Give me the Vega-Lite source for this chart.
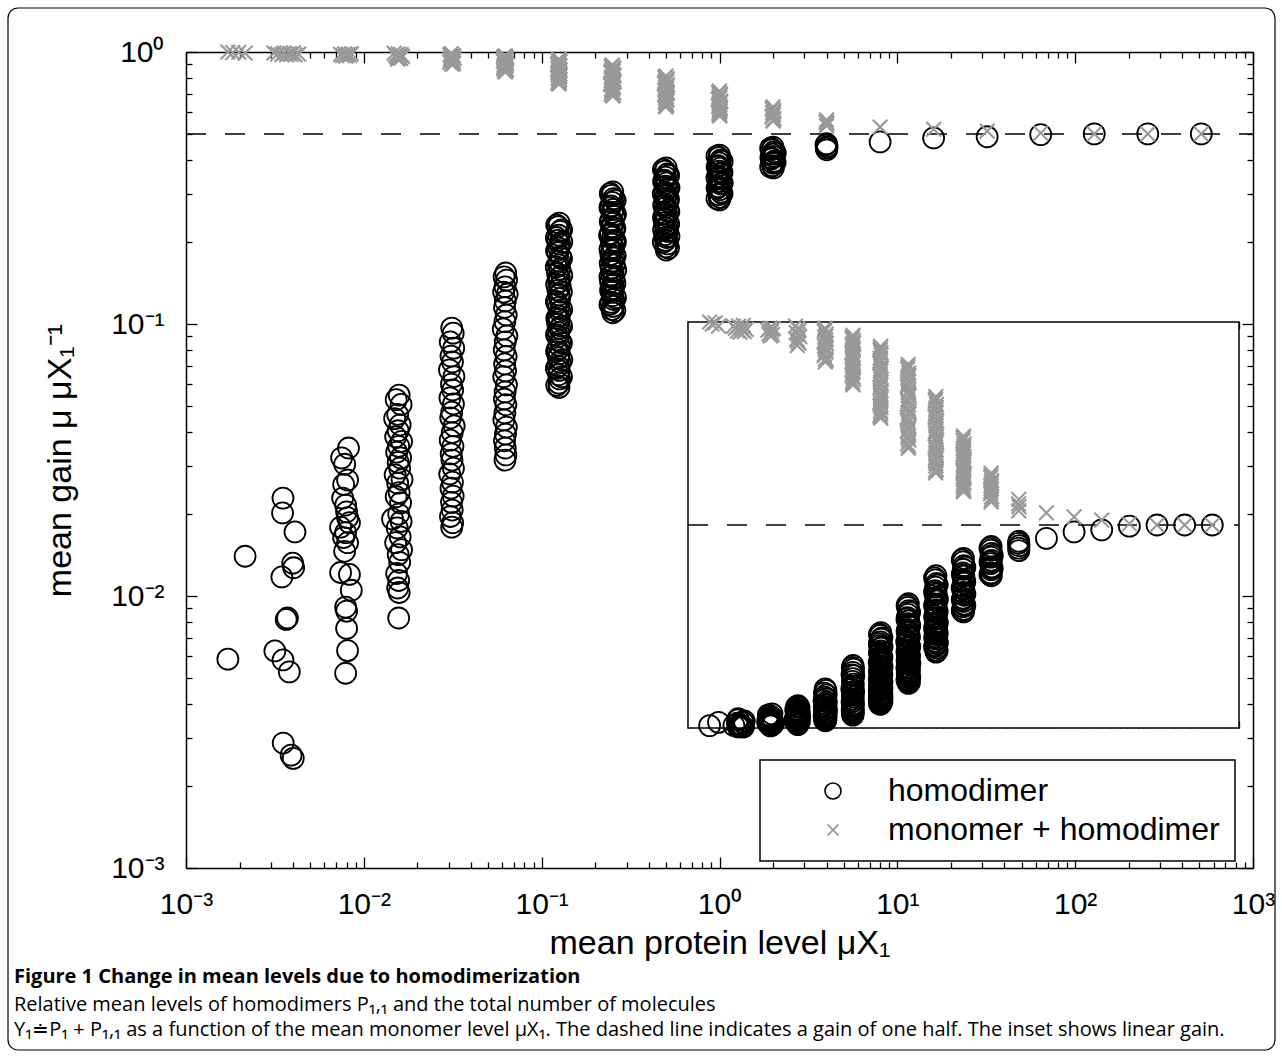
{
  "$schema": "https://vega.github.io/schema/vega-lite/v6.json",
  "autosize": {"type": "none"},
  "padding": {"left": 186, "top": 52, "right": 29, "bottom": 188},
  "width": 1067,
  "height": 816,
  "background": "white",
  "datasets": {
    "pts": [
      {"x":0.00172,"y":0.00586,"s":"h"},{"x":0.00215,"y":0.014,"s":"h"},{"x":0.00351,"y":0.0229,"s":"h"},{"x":0.00349,"y":0.0202,"s":"h"},
      {"x":0.0041,"y":0.0172,"s":"h"},{"x":0.00398,"y":0.0132,"s":"h"},{"x":0.00403,"y":0.0127,"s":"h"},{"x":0.00346,"y":0.01175,"s":"h"},
      {"x":0.00372,"y":0.0083,"s":"h"},{"x":0.00366,"y":0.0082,"s":"h"},{"x":0.00316,"y":0.00628,"s":"h"},{"x":0.00351,"y":0.00582,"s":"h"},
      {"x":0.00381,"y":0.00526,"s":"h"},{"x":0.00352,"y":0.00288,"s":"h"},{"x":0.0039,"y":0.0026,"s":"h"},{"x":0.00401,"y":0.00253,"s":"h"},
      {"x":0.0082,"y":0.035,"s":"h"},{"x":0.0075,"y":0.0322,"s":"h"},{"x":0.0078,"y":0.0305,"s":"h"},{"x":0.0081,"y":0.0267,"s":"h"},
      {"x":0.0077,"y":0.0257,"s":"h"},{"x":0.0076,"y":0.0229,"s":"h"},{"x":0.0079,"y":0.0216,"s":"h"},{"x":0.008,"y":0.0204,"s":"h"},
      {"x":0.0081,"y":0.0194,"s":"h"},{"x":0.0083,"y":0.0186,"s":"h"},{"x":0.0074,"y":0.0179,"s":"h"},{"x":0.0079,"y":0.0171,"s":"h"},
      {"x":0.0077,"y":0.0164,"s":"h"},{"x":0.0081,"y":0.0157,"s":"h"},{"x":0.0078,"y":0.0146,"s":"h"},{"x":0.0074,"y":0.0122,"s":"h"},
      {"x":0.0083,"y":0.012,"s":"h"},{"x":0.0085,"y":0.0105,"s":"h"},{"x":0.0079,"y":0.0091,"s":"h"},{"x":0.008,"y":0.0088,"s":"h"},
      {"x":0.008,"y":0.0076,"s":"h"},{"x":0.0081,"y":0.0063,"s":"h"},{"x":0.0079,"y":0.0052,"s":"h"},
      {"x":0.0158,"y":0.0548,"s":"h"},{"x":0.0152,"y":0.0527,"s":"h"},{"x":0.0162,"y":0.0506,"s":"h"},{"x":0.0155,"y":0.0465,"s":"h"},
      {"x":0.0149,"y":0.0449,"s":"h"},{"x":0.016,"y":0.0426,"s":"h"},{"x":0.0156,"y":0.0405,"s":"h"},{"x":0.0151,"y":0.0385,"s":"h"},
      {"x":0.0163,"y":0.037,"s":"h"},{"x":0.0157,"y":0.0355,"s":"h"},{"x":0.0153,"y":0.0338,"s":"h"},{"x":0.0161,"y":0.0322,"s":"h"},
      {"x":0.0156,"y":0.031,"s":"h"},{"x":0.0159,"y":0.0295,"s":"h"},{"x":0.015,"y":0.0279,"s":"h"},{"x":0.0164,"y":0.0268,"s":"h"},
      {"x":0.0155,"y":0.026,"s":"h"},{"x":0.0158,"y":0.024,"s":"h"},{"x":0.0152,"y":0.0232,"s":"h"},{"x":0.0161,"y":0.022,"s":"h"},
      {"x":0.0157,"y":0.02,"s":"h"},{"x":0.0145,"y":0.0192,"s":"h"},{"x":0.0162,"y":0.0188,"s":"h"},{"x":0.0154,"y":0.0178,"s":"h"},
      {"x":0.016,"y":0.0165,"s":"h"},{"x":0.0151,"y":0.0157,"s":"h"},{"x":0.0163,"y":0.0148,"s":"h"},{"x":0.0156,"y":0.0142,"s":"h"},
      {"x":0.0159,"y":0.0133,"s":"h"},{"x":0.0153,"y":0.0121,"s":"h"},{"x":0.0157,"y":0.0114,"s":"h"},{"x":0.0155,"y":0.0107,"s":"h"},
      {"x":0.0158,"y":0.0103,"s":"h"},{"x":0.0157,"y":0.0083,"s":"h"},
      {"x":0.0312,"y":0.0966,"s":"h"},{"x":0.0318,"y":0.0925,"s":"h"},{"x":0.0306,"y":0.0859,"s":"h"},{"x":0.032,"y":0.0815,"s":"h"},
      {"x":0.0309,"y":0.0762,"s":"h"},{"x":0.0315,"y":0.0725,"s":"h"},{"x":0.0303,"y":0.0678,"s":"h"},{"x":0.0321,"y":0.0641,"s":"h"},
      {"x":0.0311,"y":0.0601,"s":"h"},{"x":0.0316,"y":0.0572,"s":"h"},{"x":0.0305,"y":0.0535,"s":"h"},{"x":0.0319,"y":0.0508,"s":"h"},
      {"x":0.0312,"y":0.0474,"s":"h"},{"x":0.0308,"y":0.0452,"s":"h"},{"x":0.0322,"y":0.0422,"s":"h"},{"x":0.0314,"y":0.0399,"s":"h"},
      {"x":0.0306,"y":0.0374,"s":"h"},{"x":0.0317,"y":0.0355,"s":"h"},{"x":0.031,"y":0.0333,"s":"h"},{"x":0.0313,"y":0.0316,"s":"h"},
      {"x":0.0319,"y":0.0295,"s":"h"},{"x":0.0304,"y":0.0281,"s":"h"},{"x":0.0315,"y":0.0262,"s":"h"},{"x":0.0309,"y":0.0249,"s":"h"},
      {"x":0.0318,"y":0.0233,"s":"h"},{"x":0.0311,"y":0.0221,"s":"h"},{"x":0.0314,"y":0.0207,"s":"h"},{"x":0.0307,"y":0.0196,"s":"h"},
      {"x":0.0316,"y":0.0186,"s":"h"},{"x":0.0312,"y":0.0179,"s":"h"},
      {"x":0.0628,"y":0.154,"s":"h"},{"x":0.0615,"y":0.149,"s":"h"},{"x":0.0635,"y":0.145,"s":"h"},{"x":0.0622,"y":0.137,"s":"h"},
      {"x":0.0611,"y":0.131,"s":"h"},{"x":0.064,"y":0.1289,"s":"h"},{"x":0.0625,"y":0.1215,"s":"h"},{"x":0.0618,"y":0.115,"s":"h"},
      {"x":0.0632,"y":0.1079,"s":"h"},{"x":0.0621,"y":0.102,"s":"h"},{"x":0.0608,"y":0.0959,"s":"h"},{"x":0.0637,"y":0.0904,"s":"h"},
      {"x":0.0624,"y":0.086,"s":"h"},{"x":0.0616,"y":0.0803,"s":"h"},{"x":0.0631,"y":0.076,"s":"h"},{"x":0.0619,"y":0.0713,"s":"h"},
      {"x":0.0627,"y":0.0672,"s":"h"},{"x":0.0612,"y":0.064,"s":"h"},{"x":0.0634,"y":0.0597,"s":"h"},{"x":0.0623,"y":0.0563,"s":"h"},
      {"x":0.0617,"y":0.053,"s":"h"},{"x":0.0629,"y":0.0505,"s":"h"},{"x":0.0621,"y":0.0471,"s":"h"},{"x":0.0613,"y":0.0444,"s":"h"},
      {"x":0.0633,"y":0.0418,"s":"h"},{"x":0.0626,"y":0.0394,"s":"h"},{"x":0.0618,"y":0.0372,"s":"h"},{"x":0.0624,"y":0.035,"s":"h"},
      {"x":0.0629,"y":0.033,"s":"h"},{"x":0.0622,"y":0.0316,"s":"h"},
      {"x":0.1255,"y":0.235,"s":"h"},{"x":0.1238,"y":0.228,"s":"h"},{"x":0.127,"y":0.219,"s":"h"},{"x":0.1246,"y":0.212,"s":"h"},
      {"x":0.1228,"y":0.203,"s":"h"},{"x":0.1262,"y":0.197,"s":"h"},{"x":0.1249,"y":0.19,"s":"h"},{"x":0.1232,"y":0.183,"s":"h"},
      {"x":0.1275,"y":0.177,"s":"h"},{"x":0.1252,"y":0.17,"s":"h"},{"x":0.1241,"y":0.165,"s":"h"},{"x":0.1266,"y":0.159,"s":"h"},
      {"x":0.1229,"y":0.153,"s":"h"},{"x":0.1257,"y":0.148,"s":"h"},{"x":0.1244,"y":0.143,"s":"h"},{"x":0.1271,"y":0.138,"s":"h"},
      {"x":0.1235,"y":0.133,"s":"h"},{"x":0.1253,"y":0.128,"s":"h"},{"x":0.1262,"y":0.124,"s":"h"},{"x":0.1226,"y":0.119,"s":"h"},
      {"x":0.1248,"y":0.115,"s":"h"},{"x":0.1268,"y":0.111,"s":"h"},{"x":0.1239,"y":0.107,"s":"h"},{"x":0.1255,"y":0.104,"s":"h"},
      {"x":0.1231,"y":0.0999,"s":"h"},{"x":0.1264,"y":0.0964,"s":"h"},{"x":0.1247,"y":0.093,"s":"h"},{"x":0.1236,"y":0.0898,"s":"h"},
      {"x":0.1272,"y":0.0866,"s":"h"},{"x":0.1251,"y":0.0836,"s":"h"},{"x":0.1228,"y":0.0807,"s":"h"},{"x":0.1259,"y":0.0778,"s":"h"},
      {"x":0.1243,"y":0.0751,"s":"h"},{"x":0.1266,"y":0.0725,"s":"h"},{"x":0.1237,"y":0.0699,"s":"h"},{"x":0.1254,"y":0.0675,"s":"h"},
      {"x":0.1246,"y":0.0651,"s":"h"},{"x":0.1261,"y":0.0628,"s":"h"},{"x":0.1249,"y":0.0606,"s":"h"},{"x":0.1252,"y":0.0585,"s":"h"},
      {"x":0.1215,"y":0.231,"s":"h"},{"x":0.1295,"y":0.222,"s":"h"},{"x":0.121,"y":0.208,"s":"h"},{"x":0.1298,"y":0.2,"s":"h"},
      {"x":0.1212,"y":0.186,"s":"h"},{"x":0.1293,"y":0.174,"s":"h"},{"x":0.1208,"y":0.162,"s":"h"},{"x":0.1297,"y":0.151,"s":"h"},
      {"x":0.1214,"y":0.14,"s":"h"},{"x":0.1291,"y":0.131,"s":"h"},{"x":0.121,"y":0.121,"s":"h"},{"x":0.1296,"y":0.113,"s":"h"},
      {"x":0.1216,"y":0.105,"s":"h"},{"x":0.1294,"y":0.0982,"s":"h"},{"x":0.1211,"y":0.0914,"s":"h"},{"x":0.1292,"y":0.0851,"s":"h"},
      {"x":0.1213,"y":0.0792,"s":"h"},{"x":0.1297,"y":0.0738,"s":"h"},{"x":0.1209,"y":0.0687,"s":"h"},{"x":0.1293,"y":0.064,"s":"h"},
      {"x":0.1215,"y":0.0595,"s":"h"},
      {"x":0.251,"y":0.306,"s":"h"},{"x":0.247,"y":0.297,"s":"h"},{"x":0.254,"y":0.289,"s":"h"},{"x":0.249,"y":0.28,"s":"h"},
      {"x":0.245,"y":0.272,"s":"h"},{"x":0.253,"y":0.264,"s":"h"},{"x":0.25,"y":0.257,"s":"h"},{"x":0.256,"y":0.249,"s":"h"},
      {"x":0.246,"y":0.242,"s":"h"},{"x":0.252,"y":0.235,"s":"h"},{"x":0.248,"y":0.228,"s":"h"},{"x":0.255,"y":0.222,"s":"h"},
      {"x":0.244,"y":0.215,"s":"h"},{"x":0.251,"y":0.209,"s":"h"},{"x":0.257,"y":0.203,"s":"h"},{"x":0.247,"y":0.197,"s":"h"},
      {"x":0.253,"y":0.191,"s":"h"},{"x":0.249,"y":0.186,"s":"h"},{"x":0.245,"y":0.18,"s":"h"},{"x":0.254,"y":0.175,"s":"h"},
      {"x":0.25,"y":0.17,"s":"h"},{"x":0.256,"y":0.165,"s":"h"},{"x":0.246,"y":0.16,"s":"h"},{"x":0.252,"y":0.156,"s":"h"},
      {"x":0.248,"y":0.151,"s":"h"},{"x":0.255,"y":0.147,"s":"h"},{"x":0.244,"y":0.143,"s":"h"},{"x":0.251,"y":0.139,"s":"h"},
      {"x":0.253,"y":0.135,"s":"h"},{"x":0.247,"y":0.131,"s":"h"},{"x":0.25,"y":0.127,"s":"h"},{"x":0.254,"y":0.123,"s":"h"},
      {"x":0.246,"y":0.12,"s":"h"},{"x":0.252,"y":0.116,"s":"h"},{"x":0.249,"y":0.113,"s":"h"},{"x":0.251,"y":0.11,"s":"h"},
      {"x":0.243,"y":0.302,"s":"h"},{"x":0.259,"y":0.285,"s":"h"},{"x":0.242,"y":0.268,"s":"h"},{"x":0.26,"y":0.253,"s":"h"},
      {"x":0.243,"y":0.238,"s":"h"},{"x":0.258,"y":0.225,"s":"h"},{"x":0.241,"y":0.212,"s":"h"},{"x":0.26,"y":0.2,"s":"h"},
      {"x":0.242,"y":0.188,"s":"h"},{"x":0.259,"y":0.178,"s":"h"},{"x":0.243,"y":0.167,"s":"h"},{"x":0.261,"y":0.158,"s":"h"},
      {"x":0.242,"y":0.149,"s":"h"},{"x":0.258,"y":0.141,"s":"h"},{"x":0.244,"y":0.133,"s":"h"},{"x":0.26,"y":0.125,"s":"h"},
      {"x":0.242,"y":0.118,"s":"h"},{"x":0.258,"y":0.112,"s":"h"},
      {"x":0.501,"y":0.375,"s":"h"},{"x":0.494,"y":0.365,"s":"h"},{"x":0.508,"y":0.356,"s":"h"},{"x":0.497,"y":0.347,"s":"h"},
      {"x":0.489,"y":0.338,"s":"h"},{"x":0.505,"y":0.33,"s":"h"},{"x":0.499,"y":0.321,"s":"h"},{"x":0.511,"y":0.313,"s":"h"},
      {"x":0.492,"y":0.305,"s":"h"},{"x":0.503,"y":0.298,"s":"h"},{"x":0.496,"y":0.29,"s":"h"},{"x":0.509,"y":0.283,"s":"h"},
      {"x":0.488,"y":0.276,"s":"h"},{"x":0.502,"y":0.269,"s":"h"},{"x":0.513,"y":0.262,"s":"h"},{"x":0.494,"y":0.255,"s":"h"},
      {"x":0.506,"y":0.249,"s":"h"},{"x":0.498,"y":0.243,"s":"h"},{"x":0.49,"y":0.236,"s":"h"},{"x":0.507,"y":0.23,"s":"h"},
      {"x":0.5,"y":0.225,"s":"h"},{"x":0.511,"y":0.219,"s":"h"},{"x":0.493,"y":0.213,"s":"h"},{"x":0.504,"y":0.208,"s":"h"},
      {"x":0.497,"y":0.203,"s":"h"},{"x":0.509,"y":0.197,"s":"h"},{"x":0.499,"y":0.192,"s":"h"},{"x":0.502,"y":0.187,"s":"h"},
      {"x":0.484,"y":0.37,"s":"h"},{"x":0.518,"y":0.352,"s":"h"},{"x":0.485,"y":0.334,"s":"h"},{"x":0.52,"y":0.317,"s":"h"},
      {"x":0.483,"y":0.301,"s":"h"},{"x":0.517,"y":0.287,"s":"h"},{"x":0.486,"y":0.272,"s":"h"},{"x":0.519,"y":0.259,"s":"h"},
      {"x":0.484,"y":0.246,"s":"h"},{"x":0.518,"y":0.233,"s":"h"},{"x":0.485,"y":0.222,"s":"h"},{"x":0.52,"y":0.21,"s":"h"},
      {"x":0.483,"y":0.2,"s":"h"},{"x":0.517,"y":0.19,"s":"h"},
      {"x":1.0,"y":0.418,"s":"h"},{"x":0.99,"y":0.409,"s":"h"},{"x":1.012,"y":0.4,"s":"h"},{"x":0.995,"y":0.391,"s":"h"},
      {"x":0.982,"y":0.382,"s":"h"},{"x":1.008,"y":0.374,"s":"h"},{"x":0.998,"y":0.365,"s":"h"},{"x":1.02,"y":0.357,"s":"h"},
      {"x":0.987,"y":0.349,"s":"h"},{"x":1.005,"y":0.342,"s":"h"},{"x":0.993,"y":0.334,"s":"h"},{"x":1.015,"y":0.327,"s":"h"},
      {"x":0.985,"y":0.32,"s":"h"},{"x":1.003,"y":0.312,"s":"h"},{"x":1.018,"y":0.305,"s":"h"},{"x":0.991,"y":0.299,"s":"h"},
      {"x":1.009,"y":0.292,"s":"h"},{"x":1.0,"y":0.286,"s":"h"},
      {"x":0.968,"y":0.414,"s":"h"},{"x":1.035,"y":0.396,"s":"h"},{"x":0.97,"y":0.378,"s":"h"},{"x":1.033,"y":0.361,"s":"h"},
      {"x":0.967,"y":0.345,"s":"h"},{"x":1.036,"y":0.33,"s":"h"},{"x":0.969,"y":0.316,"s":"h"},{"x":1.034,"y":0.302,"s":"h"},
      {"x":0.968,"y":0.289,"s":"h"},
      {"x":2.0,"y":0.447,"s":"h"},{"x":1.98,"y":0.438,"s":"h"},{"x":2.02,"y":0.43,"s":"h"},{"x":1.99,"y":0.421,"s":"h"},
      {"x":2.01,"y":0.413,"s":"h"},{"x":1.97,"y":0.405,"s":"h"},{"x":2.03,"y":0.397,"s":"h"},{"x":2.0,"y":0.39,"s":"h"},
      {"x":1.985,"y":0.382,"s":"h"},{"x":2.01,"y":0.375,"s":"h"},
      {"x":1.94,"y":0.443,"s":"h"},{"x":2.06,"y":0.425,"s":"h"},{"x":1.945,"y":0.409,"s":"h"},{"x":2.055,"y":0.393,"s":"h"},{"x":1.94,"y":0.378,"s":"h"},
      {"x":4.0,"y":0.46,"s":"h"},{"x":3.97,"y":0.455,"s":"h"},{"x":4.03,"y":0.449,"s":"h"},{"x":3.99,"y":0.443,"s":"h"},{"x":4.01,"y":0.437,"s":"h"},
      {"x":8,"y":0.467,"s":"h"},{"x":16,"y":0.483,"s":"h"},{"x":32,"y":0.488,"s":"h"},{"x":64,"y":0.497,"s":"h"},
      {"x":128,"y":0.5,"s":"h"},{"x":256,"y":0.5,"s":"h"},{"x":512,"y":0.5,"s":"h"},
      {"x":0.00172,"y":1.0,"s":"m"},{"x":0.00183,"y":0.995,"s":"m"},{"x":0.00198,"y":0.998,"s":"m"},{"x":0.00215,"y":0.99,"s":"m"},
      {"x":0.00312,"y":0.99,"s":"m"},{"x":0.00328,"y":0.985,"s":"m"},{"x":0.00346,"y":0.978,"s":"m"},{"x":0.00355,"y":0.99,"s":"m"},
      {"x":0.00368,"y":0.975,"s":"m"},{"x":0.00381,"y":0.986,"s":"m"},{"x":0.0039,"y":0.98,"s":"m"},{"x":0.00401,"y":0.992,"s":"m"},
      {"x":0.0041,"y":0.976,"s":"m"},{"x":0.0043,"y":0.982,"s":"m"},
      {"x":0.0074,"y":0.98,"s":"m"},{"x":0.0076,"y":0.97,"s":"m"},{"x":0.0078,"y":0.985,"s":"m"},{"x":0.0079,"y":0.966,"s":"m"},
      {"x":0.008,"y":0.975,"s":"m"},{"x":0.0082,"y":0.981,"s":"m"},{"x":0.0083,"y":0.969,"s":"m"},{"x":0.0085,"y":0.984,"s":"m"},
      {"x":0.0148,"y":0.99,"s":"m"},{"x":0.0156,"y":0.984,"s":"m"},{"x":0.0162,"y":0.979,"s":"m"},{"x":0.0151,"y":0.974,"s":"m"},
      {"x":0.0159,"y":0.969,"s":"m"},{"x":0.0165,"y":0.964,"s":"m"},{"x":0.0153,"y":0.958,"s":"m"},{"x":0.0157,"y":0.953,"s":"m"},
      {"x":0.0161,"y":0.948,"s":"m"},{"x":0.0155,"y":0.942,"s":"m"},
      {"x":0.0311,"y":0.985,"s":"m"},{"x":0.0305,"y":0.977,"s":"m"},{"x":0.0319,"y":0.97,"s":"m"},{"x":0.0309,"y":0.962,"s":"m"},
      {"x":0.0315,"y":0.956,"s":"m"},{"x":0.0322,"y":0.947,"s":"m"},{"x":0.0307,"y":0.941,"s":"m"},{"x":0.0313,"y":0.932,"s":"m"},
      {"x":0.0318,"y":0.926,"s":"m"},{"x":0.0304,"y":0.917,"s":"m"},{"x":0.0316,"y":0.91,"s":"m"},{"x":0.0312,"y":0.902,"s":"m"},
      {"x":0.0308,"y":0.981,"s":"m"},{"x":0.0317,"y":0.966,"s":"m"},{"x":0.031,"y":0.951,"s":"m"},{"x":0.0314,"y":0.937,"s":"m"},
      {"x":0.0306,"y":0.921,"s":"m"},{"x":0.032,"y":0.906,"s":"m"},
      {"x":0.0625,"y":0.967,"s":"m"},{"x":0.0612,"y":0.959,"s":"m"},{"x":0.0636,"y":0.948,"s":"m"},{"x":0.0619,"y":0.941,"s":"m"},
      {"x":0.0628,"y":0.93,"s":"m"},{"x":0.0609,"y":0.923,"s":"m"},{"x":0.0633,"y":0.912,"s":"m"},{"x":0.0621,"y":0.905,"s":"m"},
      {"x":0.0615,"y":0.894,"s":"m"},{"x":0.063,"y":0.887,"s":"m"},{"x":0.0624,"y":0.876,"s":"m"},{"x":0.0611,"y":0.869,"s":"m"},
      {"x":0.0635,"y":0.859,"s":"m"},{"x":0.0618,"y":0.853,"s":"m"},{"x":0.0626,"y":0.845,"s":"m"},
      {"x":0.0618,"y":0.963,"s":"m"},{"x":0.0631,"y":0.954,"s":"m"},{"x":0.0614,"y":0.945,"s":"m"},{"x":0.0627,"y":0.935,"s":"m"},
      {"x":0.062,"y":0.918,"s":"m"},{"x":0.0632,"y":0.9,"s":"m"},{"x":0.0613,"y":0.882,"s":"m"},{"x":0.0629,"y":0.864,"s":"m"},{"x":0.062,"y":0.849,"s":"m"},
      {"x":0.1252,"y":0.94,"s":"m"},{"x":0.1235,"y":0.931,"s":"m"},{"x":0.1268,"y":0.919,"s":"m"},{"x":0.1244,"y":0.911,"s":"m"},
      {"x":0.1229,"y":0.899,"s":"m"},{"x":0.1261,"y":0.891,"s":"m"},{"x":0.1248,"y":0.879,"s":"m"},{"x":0.1238,"y":0.871,"s":"m"},
      {"x":0.1272,"y":0.859,"s":"m"},{"x":0.1251,"y":0.851,"s":"m"},{"x":0.1233,"y":0.839,"s":"m"},{"x":0.1265,"y":0.831,"s":"m"},
      {"x":0.1246,"y":0.82,"s":"m"},{"x":0.1257,"y":0.809,"s":"m"},{"x":0.124,"y":0.801,"s":"m"},{"x":0.1263,"y":0.789,"s":"m"},
      {"x":0.1249,"y":0.781,"s":"m"},{"x":0.1231,"y":0.77,"s":"m"},{"x":0.1255,"y":0.763,"s":"m"},
      {"x":0.1242,"y":0.936,"s":"m"},{"x":0.1259,"y":0.925,"s":"m"},{"x":0.1236,"y":0.905,"s":"m"},{"x":0.1266,"y":0.885,"s":"m"},
      {"x":0.1241,"y":0.865,"s":"m"},{"x":0.1258,"y":0.845,"s":"m"},{"x":0.1237,"y":0.826,"s":"m"},{"x":0.1262,"y":0.815,"s":"m"},
      {"x":0.1245,"y":0.795,"s":"m"},{"x":0.1256,"y":0.775,"s":"m"},{"x":0.1243,"y":0.766,"s":"m"},
      {"x":0.25,"y":0.896,"s":"m"},{"x":0.246,"y":0.884,"s":"m"},{"x":0.254,"y":0.875,"s":"m"},{"x":0.248,"y":0.862,"s":"m"},
      {"x":0.253,"y":0.853,"s":"m"},{"x":0.245,"y":0.84,"s":"m"},{"x":0.251,"y":0.831,"s":"m"},{"x":0.256,"y":0.818,"s":"m"},
      {"x":0.247,"y":0.809,"s":"m"},{"x":0.252,"y":0.796,"s":"m"},{"x":0.249,"y":0.787,"s":"m"},{"x":0.255,"y":0.774,"s":"m"},
      {"x":0.244,"y":0.765,"s":"m"},{"x":0.251,"y":0.752,"s":"m"},{"x":0.253,"y":0.743,"s":"m"},{"x":0.247,"y":0.73,"s":"m"},
      {"x":0.25,"y":0.721,"s":"m"},{"x":0.254,"y":0.709,"s":"m"},{"x":0.246,"y":0.7,"s":"m"},{"x":0.251,"y":0.689,"s":"m"},
      {"x":0.248,"y":0.89,"s":"m"},{"x":0.254,"y":0.868,"s":"m"},{"x":0.246,"y":0.847,"s":"m"},{"x":0.252,"y":0.825,"s":"m"},
      {"x":0.249,"y":0.803,"s":"m"},{"x":0.255,"y":0.78,"s":"m"},{"x":0.245,"y":0.758,"s":"m"},{"x":0.252,"y":0.736,"s":"m"},
      {"x":0.248,"y":0.715,"s":"m"},{"x":0.253,"y":0.694,"s":"m"},
      {"x":0.5,"y":0.816,"s":"m"},{"x":0.493,"y":0.805,"s":"m"},{"x":0.508,"y":0.797,"s":"m"},{"x":0.497,"y":0.785,"s":"m"},
      {"x":0.504,"y":0.777,"s":"m"},{"x":0.49,"y":0.765,"s":"m"},{"x":0.511,"y":0.757,"s":"m"},{"x":0.499,"y":0.745,"s":"m"},
      {"x":0.506,"y":0.737,"s":"m"},{"x":0.494,"y":0.725,"s":"m"},{"x":0.502,"y":0.717,"s":"m"},{"x":0.509,"y":0.705,"s":"m"},
      {"x":0.492,"y":0.697,"s":"m"},{"x":0.503,"y":0.685,"s":"m"},{"x":0.498,"y":0.677,"s":"m"},{"x":0.507,"y":0.665,"s":"m"},
      {"x":0.495,"y":0.657,"s":"m"},{"x":0.501,"y":0.645,"s":"m"},{"x":0.505,"y":0.637,"s":"m"},{"x":0.499,"y":0.628,"s":"m"},
      {"x":0.496,"y":0.81,"s":"m"},{"x":0.506,"y":0.79,"s":"m"},{"x":0.493,"y":0.771,"s":"m"},{"x":0.503,"y":0.751,"s":"m"},
      {"x":0.497,"y":0.731,"s":"m"},{"x":0.508,"y":0.711,"s":"m"},{"x":0.495,"y":0.691,"s":"m"},{"x":0.504,"y":0.671,"s":"m"},
      {"x":0.5,"y":0.651,"s":"m"},{"x":0.496,"y":0.633,"s":"m"},
      {"x":1.0,"y":0.719,"s":"m"},{"x":0.988,"y":0.708,"s":"m"},{"x":1.013,"y":0.7,"s":"m"},{"x":0.995,"y":0.688,"s":"m"},
      {"x":1.007,"y":0.68,"s":"m"},{"x":0.983,"y":0.668,"s":"m"},{"x":1.017,"y":0.66,"s":"m"},{"x":0.997,"y":0.649,"s":"m"},
      {"x":1.004,"y":0.641,"s":"m"},{"x":0.991,"y":0.63,"s":"m"},{"x":1.011,"y":0.623,"s":"m"},{"x":0.998,"y":0.612,"s":"m"},
      {"x":1.006,"y":0.605,"s":"m"},{"x":0.993,"y":0.594,"s":"m"},{"x":1.002,"y":0.588,"s":"m"},{"x":1.0,"y":0.582,"s":"m"},
      {"x":0.994,"y":0.714,"s":"m"},{"x":1.009,"y":0.694,"s":"m"},{"x":0.99,"y":0.674,"s":"m"},{"x":1.012,"y":0.655,"s":"m"},
      {"x":0.996,"y":0.636,"s":"m"},{"x":1.008,"y":0.617,"s":"m"},{"x":0.995,"y":0.6,"s":"m"},{"x":1.005,"y":0.585,"s":"m"},
      {"x":2.0,"y":0.628,"s":"m"},{"x":1.98,"y":0.617,"s":"m"},{"x":2.02,"y":0.609,"s":"m"},{"x":1.99,"y":0.597,"s":"m"},
      {"x":2.01,"y":0.589,"s":"m"},{"x":1.975,"y":0.577,"s":"m"},{"x":2.025,"y":0.569,"s":"m"},{"x":2.0,"y":0.557,"s":"m"},
      {"x":1.99,"y":0.622,"s":"m"},{"x":2.015,"y":0.603,"s":"m"},{"x":1.985,"y":0.583,"s":"m"},{"x":2.01,"y":0.563,"s":"m"},
      {"x":4.0,"y":0.563,"s":"m"},{"x":3.98,"y":0.552,"s":"m"},{"x":4.02,"y":0.545,"s":"m"},{"x":4.0,"y":0.535,"s":"m"},
      {"x":8,"y":0.53,"s":"m"},{"x":16,"y":0.52,"s":"m"},{"x":32,"y":0.512,"s":"m"},{"x":64,"y":0.503,"s":"m"},
      {"x":128,"y":0.5,"s":"m"},{"x":256,"y":0.5,"s":"m"},{"x":512,"y":0.5,"s":"m"}
    ]
  },
  "title": {
    "text": "Figure 1 Change in mean levels due to homodimerization",
    "subtitle": [
      "Relative mean levels of homodimers P₁,₁ and the total number of molecules",
      "Y₁≐P₁ + P₁,₁ as a function of the mean monomer level μX₁. The dashed line indicates a gain of one half. The inset shows linear gain."
    ],
    "orient": "bottom",
    "anchor": "start",
    "frame": "group",
    "dx": -172,
    "offset": -84,
    "font": "Open Sans",
    "fontSize": 20,
    "fontWeight": "bold",
    "color": "black",
    "subtitleFont": "Open Sans",
    "subtitleFontSize": 20,
    "subtitleColor": "black",
    "subtitleLineHeight": 25,
    "subtitlePadding": 8
  },
  "layer": [
    {
      "data": {"values": [{"a": 1}]},
      "mark": {"type": "rect", "fill": "white", "fillOpacity": 0, "stroke": "black", "strokeWidth": 1.2, "cornerRadius": 10},
      "encoding": {
        "x": {"datum": 0, "type": "quantitative", "axis": null, "scale": {"type": "linear", "domain": [0, 1], "range": [-178, 1089], "nice": false, "zero": false}},
        "x2": {"datum": 1},
        "y": {"datum": 0, "type": "quantitative", "axis": null, "scale": {"type": "linear", "domain": [0, 1], "range": [998, -44], "nice": false, "zero": false}},
        "y2": {"datum": 1}
      }
    },
    {
      "data": {"values": [{"a": 1}]},
      "mark": {"type": "rule", "strokeDash": [20, 19], "color": "black", "strokeWidth": 1.5},
      "encoding": {
        "x": {"datum": 0.001, "type": "quantitative", "axis": null, "scale": {"type": "log", "domain": [0.001, 1000], "nice": false}},
        "x2": {"datum": 1000},
        "y": {"datum": 0.5, "type": "quantitative", "axis": null, "scale": {"type": "log", "domain": [0.001, 1], "nice": false}}
      }
    },
    {
      "data": {"name": "pts"},
      "transform": [{"filter": "datum.s == 'h'"}],
      "mark": {"type": "point", "filled": false, "size": 441, "strokeWidth": 1.8, "opacity": 1},
      "encoding": {
        "x": {
          "field": "x", "type": "quantitative",
          "scale": {"type": "log", "domain": [0.001, 1000], "nice": false},
          "title": "mean protein level μX₁",
          "axis": {
            "orient": "bottom",
            "values": [0.001,0.002,0.003,0.004,0.005,0.006,0.007,0.008,0.009,0.01,0.02,0.03,0.04,0.05,0.06,0.07,0.08,0.09,0.1,0.2,0.3,0.4,0.5,0.6,0.7,0.8,0.9,1,2,3,4,5,6,7,8,9,10,20,30,40,50,60,70,80,90,100,200,300,400,500,600,700,800,900,1000],
            "labelExpr": "datum.value == 0.001 ? '10⁻³' : datum.value == 0.01 ? '10⁻²' : datum.value == 0.1 ? '10⁻¹' : datum.value == 1 ? '10⁰' : datum.value == 10 ? '10¹' : datum.value == 100 ? '10²' : datum.value == 1000 ? '10³' : ''",
            "tickSize": {"condition": {"test": "abs(log(datum.value)/LN10 - round(log(datum.value)/LN10)) < 0.001", "value": -11}, "value": -6},
            "labelPadding": 32,
            "titlePadding": 2
          }
        },
        "y": {
          "field": "y", "type": "quantitative",
          "scale": {"type": "log", "domain": [0.001, 1], "nice": false},
          "title": "mean gain μ μX₁⁻¹",
          "axis": {
            "orient": "left",
            "values": [0.001,0.002,0.003,0.004,0.005,0.006,0.007,0.008,0.009,0.01,0.02,0.03,0.04,0.05,0.06,0.07,0.08,0.09,0.1,0.2,0.3,0.4,0.5,0.6,0.7,0.8,0.9,1],
            "labelExpr": "datum.value == 0.001 ? '10⁻³' : datum.value == 0.01 ? '10⁻²' : datum.value == 0.1 ? '10⁻¹' : datum.value == 1 ? '10⁰' : ''",
            "tickSize": {"condition": {"test": "abs(log(datum.value)/LN10 - round(log(datum.value)/LN10)) < 0.001", "value": -11}, "value": -6},
            "labelPadding": 33,
            "titlePadding": 33
          }
        },
        "color": {
          "field": "s", "type": "nominal",
          "scale": {"domain": ["h", "m"], "range": ["#000000", "#999999"]},
          "legend": {"title": null, "labelExpr": "datum.label == 'h' ? 'homodimer' : 'monomer + homodimer'"}
        },
        "shape": {
          "field": "s", "type": "nominal",
          "scale": {"domain": ["h", "m"], "range": ["circle", "M-0.7,-0.7L0.7,0.7M-0.7,0.7L0.7,-0.7"]},
          "legend": {"title": null, "labelExpr": "datum.label == 'h' ? 'homodimer' : 'monomer + homodimer'"}
        }
      }
    },
    {
      "data": {"name": "pts"},
      "transform": [{"filter": "datum.s == 'm'"}],
      "mark": {"type": "point", "filled": false, "size": 441, "strokeWidth": 2.1, "opacity": 1},
      "encoding": {
        "x": {"field": "x", "type": "quantitative", "axis": null, "scale": {"type": "log", "domain": [0.001, 1000], "nice": false}},
        "y": {"field": "y", "type": "quantitative", "axis": null, "scale": {"type": "log", "domain": [0.001, 1], "nice": false}},
        "color": {
          "field": "s", "type": "nominal",
          "scale": {"domain": ["h", "m"], "range": ["#000000", "#999999"]},
          "legend": {"title": null, "labelExpr": "datum.label == 'h' ? 'homodimer' : 'monomer + homodimer'"}
        },
        "shape": {
          "field": "s", "type": "nominal",
          "scale": {"domain": ["h", "m"], "range": ["circle", "M-0.7,-0.7L0.7,0.7M-0.7,0.7L0.7,-0.7"]},
          "legend": {"title": null, "labelExpr": "datum.label == 'h' ? 'homodimer' : 'monomer + homodimer'"}
        }
      }
    },
    {
      "data": {"name": "pts"},
      "mark": {"type": "point", "opacity": 0},
      "encoding": {
        "x": {
          "field": "x", "type": "quantitative",
          "scale": {"type": "log", "domain": [0.001, 1000], "nice": false},
          "axis": {
            "orient": "top", "title": null, "labels": false,
            "values": [0.001,0.002,0.003,0.004,0.005,0.006,0.007,0.008,0.009,0.01,0.02,0.03,0.04,0.05,0.06,0.07,0.08,0.09,0.1,0.2,0.3,0.4,0.5,0.6,0.7,0.8,0.9,1,2,3,4,5,6,7,8,9,10,20,30,40,50,60,70,80,90,100,200,300,400,500,600,700,800,900,1000],
            "tickSize": {"condition": {"test": "abs(log(datum.value)/LN10 - round(log(datum.value)/LN10)) < 0.001", "value": -11}, "value": -6}
          }
        },
        "y": {
          "field": "y", "type": "quantitative",
          "scale": {"type": "log", "domain": [0.001, 1], "nice": false},
          "axis": {
            "orient": "right", "title": null, "labels": false,
            "values": [0.001,0.002,0.003,0.004,0.005,0.006,0.007,0.008,0.009,0.01,0.02,0.03,0.04,0.05,0.06,0.07,0.08,0.09,0.1,0.2,0.3,0.4,0.5,0.6,0.7,0.8,0.9,1],
            "tickSize": {"condition": {"test": "abs(log(datum.value)/LN10 - round(log(datum.value)/LN10)) < 0.001", "value": -11}, "value": -6}
          }
        }
      }
    },
    {
      "data": {"values": [{"a": 1}]},
      "mark": {"type": "rect", "fill": "white", "stroke": "black", "strokeWidth": 1.5},
      "encoding": {
        "x": {"datum": 0.001, "type": "quantitative", "axis": null, "scale": {"type": "log", "domain": [0.001, 1000], "range": [502, 1053], "nice": false}},
        "x2": {"datum": 1000},
        "y": {"datum": 0, "type": "quantitative", "axis": null, "scale": {"type": "linear", "domain": [0, 1], "range": [676, 270], "nice": false, "zero": false}},
        "y2": {"datum": 1}
      }
    },
    {
      "data": {"values": [{"a": 1}]},
      "mark": {"type": "rule", "strokeDash": [20, 19], "color": "black", "strokeWidth": 1.5},
      "encoding": {
        "x": {"datum": 0.001, "type": "quantitative", "axis": null, "scale": {"type": "log", "domain": [0.001, 1000], "range": [502, 1053], "nice": false}},
        "x2": {"datum": 1000},
        "y": {"datum": 0.5, "type": "quantitative", "axis": null, "scale": {"type": "linear", "domain": [0, 1], "range": [676, 270], "nice": false, "zero": false}}
      }
    },
    {
      "data": {"name": "pts"},
      "transform": [{"filter": "datum.s == 'h'"}],
      "mark": {"type": "point", "filled": false, "size": 441, "strokeWidth": 1.8, "opacity": 1},
      "encoding": {
        "x": {
          "field": "x", "type": "quantitative",
          "scale": {"type": "log", "domain": [0.001, 1000], "range": [502, 1053], "nice": false},
          "axis": {
            "orient": "bottom", "offset": -140, "title": null, "labels": false, "domain": false,
            "values": [0.001,0.002,0.003,0.004,0.005,0.006,0.007,0.008,0.009,0.01,0.02,0.03,0.04,0.05,0.06,0.07,0.08,0.09,0.1,0.2,0.3,0.4,0.5,0.6,0.7,0.8,0.9,1,2,3,4,5,6,7,8,9,10,20,30,40,50,60,70,80,90,100,200,300,400,500,600,700,800,900,1000],
            "tickSize": {"condition": {"test": "abs(log(datum.value)/LN10 - round(log(datum.value)/LN10)) < 0.001", "value": -7}, "value": -4}
          }
        },
        "y": {
          "field": "y", "type": "quantitative",
          "scale": {"type": "linear", "domain": [0, 1], "range": [676, 270], "nice": false, "zero": false},
          "axis": null
        },
        "color": {
          "field": "s", "type": "nominal",
          "scale": {"domain": ["h", "m"], "range": ["#000000", "#999999"]},
          "legend": {"title": null, "labelExpr": "datum.label == 'h' ? 'homodimer' : 'monomer + homodimer'"}
        },
        "shape": {
          "field": "s", "type": "nominal",
          "scale": {"domain": ["h", "m"], "range": ["circle", "M-0.7,-0.7L0.7,0.7M-0.7,0.7L0.7,-0.7"]},
          "legend": {"title": null, "labelExpr": "datum.label == 'h' ? 'homodimer' : 'monomer + homodimer'"}
        }
      }
    },
    {
      "data": {"name": "pts"},
      "transform": [{"filter": "datum.s == 'm'"}],
      "mark": {"type": "point", "filled": false, "size": 441, "strokeWidth": 2.1, "opacity": 1},
      "encoding": {
        "x": {"field": "x", "type": "quantitative", "axis": null, "scale": {"type": "log", "domain": [0.001, 1000], "range": [502, 1053], "nice": false}},
        "y": {"field": "y", "type": "quantitative", "axis": null, "scale": {"type": "linear", "domain": [0, 1], "range": [676, 270], "nice": false, "zero": false}},
        "color": {
          "field": "s", "type": "nominal",
          "scale": {"domain": ["h", "m"], "range": ["#000000", "#999999"]},
          "legend": {"title": null, "labelExpr": "datum.label == 'h' ? 'homodimer' : 'monomer + homodimer'"}
        },
        "shape": {
          "field": "s", "type": "nominal",
          "scale": {"domain": ["h", "m"], "range": ["circle", "M-0.7,-0.7L0.7,0.7M-0.7,0.7L0.7,-0.7"]},
          "legend": {"title": null, "labelExpr": "datum.label == 'h' ? 'homodimer' : 'monomer + homodimer'"}
        }
      }
    },
    {
      "data": {"name": "pts"},
      "mark": {"type": "point", "opacity": 0},
      "encoding": {
        "x": {
          "field": "x", "type": "quantitative",
          "scale": {"type": "log", "domain": [0.001, 1000], "range": [502, 1053], "nice": false},
          "axis": {
            "orient": "top", "offset": -270, "title": null, "labels": false, "domain": false,
            "values": [0.001,0.002,0.003,0.004,0.005,0.006,0.007,0.008,0.009,0.01,0.02,0.03,0.04,0.05,0.06,0.07,0.08,0.09,0.1,0.2,0.3,0.4,0.5,0.6,0.7,0.8,0.9,1,2,3,4,5,6,7,8,9,10,20,30,40,50,60,70,80,90,100,200,300,400,500,600,700,800,900,1000],
            "tickSize": {"condition": {"test": "abs(log(datum.value)/LN10 - round(log(datum.value)/LN10)) < 0.001", "value": -7}, "value": -4}
          }
        }
      }
    }
  ],
  "resolve": {
    "scale": {"x": "independent", "y": "independent"},
    "axis": {"x": "independent", "y": "independent"}
  },
  "config": {
    "font": "Liberation Sans",
    "view": {"stroke": null},
    "axis": {
      "grid": false,
      "domainColor": "black",
      "domainWidth": 1.5,
      "tickColor": "black",
      "tickWidth": 1.3,
      "labelColor": "black",
      "labelFont": "Liberation Sans",
      "labelFontSize": 30,
      "labelFlush": false,
      "labelOverlap": false,
      "labelBound": false,
      "labelLimit": 0,
      "titleFont": "Liberation Sans",
      "titleFontSize": 34,
      "titleFontWeight": "normal",
      "titleColor": "black",
      "zindex": 1
    },
    "legend": {
      "orient": "none",
      "legendX": 574,
      "legendY": 708,
      "strokeColor": "black",
      "strokeWidth": 1.5,
      "fillColor": "white",
      "padding": 15,
      "labelFont": "Liberation Sans",
      "labelFontSize": 32,
      "labelColor": "black",
      "labelLimit": 0,
      "symbolSize": 256,
      "symbolStrokeWidth": 1.6,
      "symbolOffset": 42,
      "labelOffset": 39,
      "rowPadding": 7
    }
  }
}
